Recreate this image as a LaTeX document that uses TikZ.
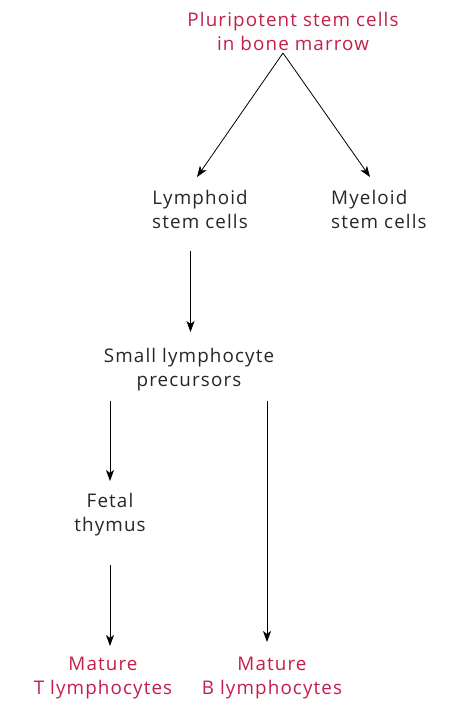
\documentclass[tikz,border=0pt]{standalone}
\usepackage{fontspec}
\setmainfont{Open Sans}[LetterSpace=6]
\usetikzlibrary{arrows.meta}
\definecolor{crim}{HTML}{C41E4A}
\begin{document}
\begin{tikzpicture}[x=1pt,y=-1pt,
  lbl/.style={align=center,font=\fontsize{18.8}{24}\selectfont,inner sep=0pt,text=black!85},
  red/.style={lbl,text=crim},
  arr/.style={-{Stealth[length=11pt,width=8pt,inset=3pt]},line width=0.8pt}]
\useasboundingbox (0,0) rectangle (461,701);
\node[red] (ps) at (293,31) {Pluripotent stem cells\\in bone marrow};
\node[lbl] (ly) at (200,209) {Lymphoid\\stem cells};
\node[lbl,anchor=west,align=left] (my) at (331,209) {Myeloid\\stem cells};
\node[lbl] (sl) at (189,370) {Small lymphocyte\\precursors};
\node[lbl] (ft) at (110,515) {Fetal\\thymus};
\node[red] (mt) at (103,678) {Mature\\T lymphocytes};
\node[red] (mb) at (272,678) {Mature\\B lymphocytes};
\coordinate (top) at (283,53);
\draw[arr] (top) -- (197,177);
\draw[arr] (top) -- (370,177);
\draw[arr] (190.5,251) -- (190.5,332);
\draw[arr] (110,401) -- (110,481);
\draw[arr] (267,401) -- (267,642);
\draw[arr] (110,565) -- (110,646);
\end{tikzpicture}
\end{document}
